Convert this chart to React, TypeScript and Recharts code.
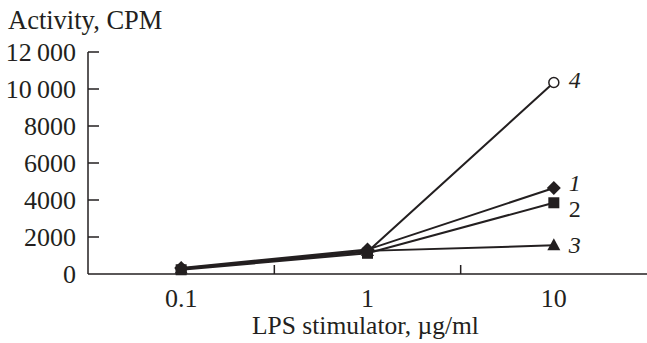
import { LineChart, Line, XAxis, YAxis } from 'recharts';

const FONT = '"Liberation Serif", "DejaVu Serif", serif';
const INK = '#231f20';

// LPS stimulator doses (µg/ml), placed at band centres
const doses = ['0.1', '1', '10'];
const doseX = [0.5, 1.5, 2.5];

// Activity, CPM
const series1 = [330, 1320, 4650];
const series2 = [230, 1120, 3850];
const series3 = [300, 1250, 1550];
const series4 = [270, 1200, 10350];

const yTicks = [0, 2000, 4000, 6000, 8000, 10000, 12000];
const xTicks = [0.5, 1, 1.5, 2, 2.5];

const data = doses.map((d, i) => ({
  dose: d,
  x: doseX[i],
  s1: series1[i],
  s2: series2[i],
  s3: series3[i],
  s4: series4[i],
}));

const fmtY = (v: number) => {
  const s = String(v);
  return v >= 10000 ? s.slice(0, s.length - 3) + '\u2009' + s.slice(-3) : s;
};

function XTick(props: any) {
  const { x, y, payload } = props;
  const v = payload.value;
  if (Number.isInteger(v)) {
    return <line x1={x} x2={x} y1={y} y2={y - 9} stroke={INK} strokeWidth={1.5} />;
  }
  const i = doseX.indexOf(v);
  return (
    <text x={x} y={y + 33} textAnchor="middle" fontFamily={FONT} fontSize={26} fill={INK}>
      {doses[i]}
    </text>
  );
}

function YTick(props: any) {
  const { x, y, payload } = props;
  return (
    <g>
      {payload.value !== 0 && <line x1={x} x2={x + 11} y1={y} y2={y} stroke={INK} strokeWidth={1.5} />}
      <text x={x - 12} y={y} dy="0.35em" textAnchor="end" fontFamily={FONT} fontSize={26} fill={INK}>
        {fmtY(payload.value)}
      </text>
    </g>
  );
}

const Diamond = (p: any) => (
  <path d={`M${p.cx},${p.cy - 7}L${p.cx + 7},${p.cy}L${p.cx},${p.cy + 7}L${p.cx - 7},${p.cy}Z`} fill={INK} />
);
const Square = (p: any) => <rect x={p.cx - 5.5} y={p.cy - 5.5} width={11} height={11} fill={INK} />;
const Triangle = (p: any) => (
  <path d={`M${p.cx},${p.cy - 7}L${p.cx + 6.5},${p.cy + 5}L${p.cx - 6.5},${p.cy + 5}Z`} fill={INK} />
);
const Circle = (p: any) => <circle cx={p.cx} cy={p.cy} r={5} fill="#fff" stroke={INK} strokeWidth={1.5} />;

function endLabel(text: string, dy: number, italic: boolean) {
  return (p: any) => {
    if (p.index !== doses.length - 1) return null;
    return (
      <text
        x={p.x + 15}
        y={p.y + dy}
        dy="0.35em"
        fontFamily={FONT}
        fontSize={24}
        fontStyle={italic ? 'italic' : 'normal'}
        fill={INK}
      >
        {text}
      </text>
    );
  };
}

// drawn in this order: the open circle first so the filled markers cover it on the left
const seriesDefs = [
  { key: 's4', dot: Circle, label: endLabel('4', -3, true) },
  { key: 's3', dot: Triangle, label: endLabel('3', -1, true) },
  { key: 's1', dot: Diamond, label: endLabel('1', -5, true) },
  { key: 's2', dot: Square, label: endLabel('2', 6, false) },
];

export default function App() {
  return (
    <div style={{ position: 'relative', width: 647, height: 343, background: '#fff', fontFamily: FONT }}>
      <style>{'body{margin:0}'}</style>
      <div style={{ position: 'absolute', left: 8, top: 7, fontSize: 26.5, lineHeight: 1, color: INK }}>
        Activity, CPM
      </div>
      <div
        style={{
          position: 'absolute',
          left: 88,
          width: 559,
          top: 313,
          textAlign: 'center',
          fontSize: 25.5,
          lineHeight: 1,
          color: INK,
          marginLeft: -2,
        }}
      >
        LPS stimulator, µg/ml
      </div>
      <LineChart width={647} height={343} data={data} margin={{ top: 52, right: 0, bottom: 0, left: 0 }}>
        <XAxis
          dataKey="x"
          type="number"
          domain={[0, 3]}
          ticks={xTicks}
          tick={<XTick />}
          tickSize={0}
          tickMargin={0}
          tickLine={false}
          height={69}
          axisLine={{ stroke: INK, strokeWidth: 1.5 }}
          interval={0}
        />
        <YAxis
          type="number"
          domain={[0, 12000]}
          ticks={yTicks}
          tick={<YTick />}
          tickSize={0}
          tickMargin={0}
          tickLine={false}
          width={88}
          axisLine={{ stroke: INK, strokeWidth: 1.5 }}
          interval={0}
        />
        {seriesDefs.map((s) => (
          <Line
            key={s.key}
            dataKey={s.key}
            type="linear"
            stroke={INK}
            strokeWidth={2}
            dot={s.dot}
            activeDot={false}
            label={s.label}
            isAnimationActive={false}
          />
        ))}
      </LineChart>
    </div>
  );
}
